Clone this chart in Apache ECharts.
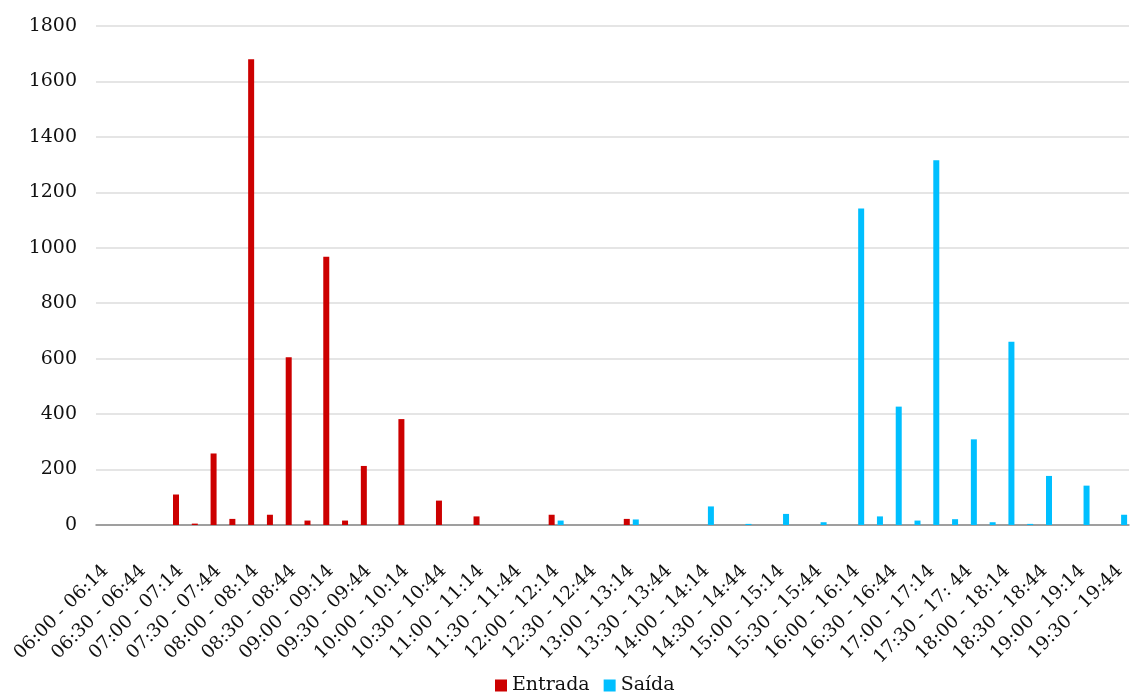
<!DOCTYPE html>
<html>
<head>
<meta charset="utf-8">
<script src="https://cdn.jsdelivr.net/npm/echarts@6/dist/echarts.min.js"></script>
<style>
html,body{margin:0;padding:0;background:#fff;}
#chart{width:1137px;height:697px;}
</style>
</head>
<body>
<div id="chart"></div>
<script>
var categories = [
  "06:00 - 06:14","06:15 - 06:29","06:30 - 06:44","06:45 - 06:59",
  "07:00 - 07:14","07:15 - 07:29","07:30 - 07:44","07:45 - 07:59",
  "08:00 - 08:14","08:15 - 08:29","08:30 - 08:44","08:45 - 08:59",
  "09:00 - 09:14","09:15 - 09:29","09:30 - 09:44","09:45 - 09:59",
  "10:00 - 10:14","10:15 - 10:29","10:30 - 10:44","10:45 - 10:59",
  "11:00 - 11:14","11:15 - 11:29","11:30 - 11:44","11:45 - 11:59",
  "12:00 - 12:14","12:15 - 12:29","12:30 - 12:44","12:45 - 12:59",
  "13:00 - 13:14","13:15 - 13:29","13:30 - 13:44","13:45 - 13:59",
  "14:00 - 14:14","14:15 - 14:29","14:30 - 14:44","14:45 - 14:59",
  "15:00 - 15:14","15:15 - 15:29","15:30 - 15:44","15:45 - 15:59",
  "16:00 - 16:14","16:15 - 16:29","16:30 - 16:44","16:45 - 16:59",
  "17:00 - 17:14","17:15 - 17:29","17:30 - 17: 44","17:45 - 17:59",
  "18:00 - 18:14","18:15 - 18:29","18:30 - 18:44","18:45 - 18:59",
  "19:00 - 19:14","19:15 - 19:29","19:30 - 19:44"
];

var entrada = [
  0,0,0,0,
  110,5,258,22,
  1680,37,605,16,
  968,16,213,0,
  382,0,88,0,
  31,0,0,0,
  37,0,0,0,
  22,0,0,0,
  0,0,0,0,
  0,0,0,0,
  0,0,0,0,
  0,0,0,0,
  0,0,0,0,
  0,0,0
];

var saida = [
  0,0,0,0,
  0,0,0,0,
  0,0,0,0,
  0,0,0,0,
  0,0,0,0,
  0,0,0,0,
  16,0,0,0,
  20,0,0,0,
  67,0,4,0,
  40,0,10,0,
  1142,31,427,16,
  1316,21,309,10,
  661,4,177,0,
  142,0,37
];

var seriesNames = ["Entrada", "Saída"];
var yTicks = { min: 0, max: 1800, interval: 200 };

var FONT = "DejaVu Serif";
var chart = echarts.init(document.getElementById('chart'));
chart.setOption({
  animation: false,
  backgroundColor: '#ffffff',
  textStyle: { fontFamily: FONT },
  grid: { left: 96, right: 8, top: 26, bottom: 172, containLabel: false },
  legend: {
    data: seriesNames,
    top: 671,
    left: 490,
    icon: 'rect',
    itemWidth: 12,
    itemHeight: 12,
    itemGap: 14,
    textStyle: { fontFamily: FONT, fontSize: 19, color: '#111' }
  },
  xAxis: {
    type: 'category',
    data: categories,
    boundaryGap: true,
    axisLine: { show: true, lineStyle: { color: '#888888', width: 1.5 } },
    axisTick: { show: false },
    axisLabel: {
      interval: 1,
      rotate: 45,
      margin: 43,
      fontFamily: FONT,
      fontSize: 18.5,
      color: '#111'
    },
    splitLine: { show: false }
  },
  yAxis: {
    type: 'value',
    min: yTicks.min,
    max: yTicks.max,
    interval: yTicks.interval,
    axisLine: { show: false },
    axisTick: { show: false },
    axisLabel: {
      margin: 19, fontFamily: FONT, fontSize: 19, color: '#111',
      formatter: function (v) { return String(v); }
    },
    splitLine: { show: true, lineStyle: { color: '#dddddd', width: 1.5 } }
  },
  series: [
    {
      name: seriesNames[0],
      type: 'bar',
      data: entrada,
      barWidth: 6,
      barGap: '50%',
      itemStyle: { color: '#cc0000' }
    },
    {
      name: seriesNames[1],
      type: 'bar',
      data: saida,
      barWidth: 6,
      barGap: '50%',
      itemStyle: { color: '#00bfff' }
    }
  ]
});
</script>
</body>
</html>
